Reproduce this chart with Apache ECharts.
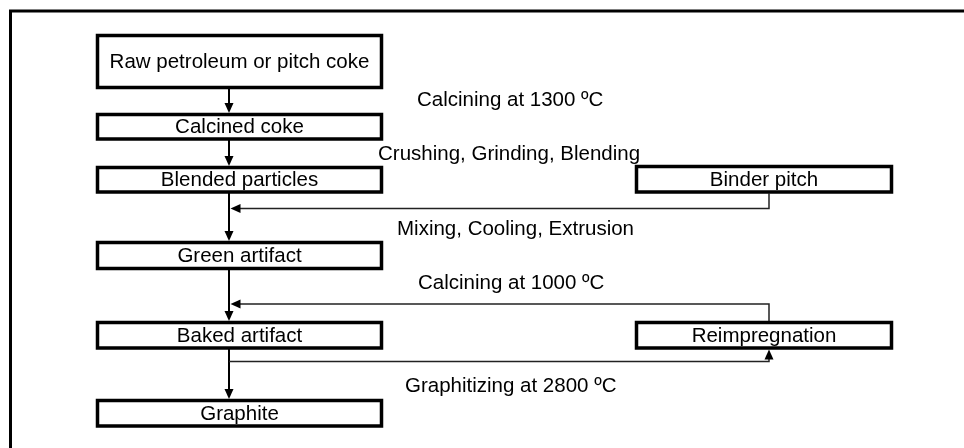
<!DOCTYPE html>
<html>
<head>
<meta charset="utf-8">
<script src="https://cdn.jsdelivr.net/npm/echarts@6/dist/echarts.min.js"></script>
<style>
html,body{margin:0;padding:0;background:#fff;}
#chart{width:964px;height:448px;}
</style>
</head>
<body>
<div id="chart"></div>
<script>
// Node labels and layout (in diagram units, x: 0-964, y: 0-448 top-down)
var nodeNames = ['Raw petroleum or pitch coke', 'Calcined coke', 'Blended particles', 'Binder pitch',
                 'Green artifact', 'Baked artifact', 'Reimpregnation', 'Graphite'];
var nodeX0 = [97.5, 97.5, 97.5, 636.5, 97.5, 97.5, 636.5, 97.5];
var nodeX1 = [381.5, 381.5, 381.5, 891.5, 381.5, 381.5, 891.5, 381.5];
var nodeY0 = [35.5, 114.5, 167.5, 166.5, 242.5, 322.5, 322.5, 400.5];
var nodeY1 = [87.5, 139, 192, 192, 268.5, 348, 348, 426];

// Process step labels: text, left x, centre y
var stepNames = ['Calcining at 1300 ºC', 'Crushing, Grinding, Blending', 'Mixing, Cooling, Extrusion',
                 'Calcining at 1000 ºC', 'Graphitizing at 2800 ºC'];
var stepX = [417, 378, 397, 418, 405];
var stepY = [100, 154, 229, 283, 386];

// Flow edges (polyline points, arrow at the last point); main = thick vertical flow
var edges = [
  [[229, 89], [229, 113]],
  [[229, 140], [229, 166]],
  [[229, 193], [229, 241]],
  [[769, 193], [769, 208.5], [230.5, 208.5]],
  [[229, 270], [229, 321]],
  [[769, 321], [769, 304], [230.5, 304]],
  [[229, 349], [229, 399]],
  [[229, 361.5], [769, 361.5], [769, 349.5]]
];
var edgeMain = [true, true, true, false, true, false, true, false];

// Outer frame (top and left edges visible)
var frame = [[10.5, 448], [10.5, 11], [964, 11]];

var chart = echarts.init(document.getElementById('chart'), null, {renderer: 'canvas'});
var FONT = 'Liberation Sans, Arial, sans-serif';
var FS = '20.5px ';

var option = {
  animation: false,
  backgroundColor: '#ffffff',
  grid: {left: 0, right: 0, top: 0, bottom: 0},
  xAxis: {type: 'value', min: 0, max: 964, show: false},
  yAxis: {type: 'value', min: 0, max: 448, inverse: true, show: false},
  series: [
    {
      type: 'custom',
      coordinateSystem: 'cartesian2d',
      data: [0],
      renderItem: function (params, api) {
        var pts = frame.map(function (p) { return api.coord(p); });
        return {type: 'polyline', shape: {points: pts}, style: {stroke: '#000', lineWidth: 3, fill: null}};
      }
    },
    {
      type: 'custom',
      coordinateSystem: 'cartesian2d',
      data: nodeNames.map(function (n, i) { return [nodeX0[i], nodeY0[i], nodeX1[i], nodeY1[i]]; }),
      renderItem: function (params, api) {
        var i = params.dataIndex;
        var p0 = api.coord([api.value(0), api.value(1)]);
        var p1 = api.coord([api.value(2), api.value(3)]);
        return {
          type: 'group',
          children: [
            {type: 'rect', shape: {x: p0[0], y: p0[1], width: p1[0] - p0[0], height: p1[1] - p0[1]},
             style: {fill: '#fff', stroke: '#000', lineWidth: 3.5}},
            {type: 'text', style: {text: nodeNames[i], x: (p0[0] + p1[0]) / 2, y: (p0[1] + p1[1]) / 2 + 1,
             textAlign: 'center', textVerticalAlign: 'middle', align: 'center', verticalAlign: 'middle',
             font: FS + FONT, fill: '#000'}}
          ]
        };
      }
    },
    {
      type: 'custom',
      coordinateSystem: 'cartesian2d',
      data: edges.map(function (e, i) { return e[0]; }),
      renderItem: function (params, api) {
        var i = params.dataIndex;
        var pts = edges[i].map(function (p) { return api.coord(p); });
        var n = pts.length;
        var tip = pts[n - 1], prev = pts[n - 2];
        var dx = tip[0] - prev[0], dy = tip[1] - prev[1];
        var len = Math.sqrt(dx * dx + dy * dy);
        var ux = dx / len, uy = dy / len;
        var L = 10, W = 4.5;
        var bx = tip[0] - ux * L, by = tip[1] - uy * L;
        var linePts = pts.slice(0, n - 1).concat([[bx + ux * 1, by + uy * 1]]);
        var main = edgeMain[i];
        return {
          type: 'group',
          children: [
            {type: 'polyline', shape: {points: linePts},
             style: {stroke: main ? '#000' : '#222', lineWidth: main ? 2 : 1.5, fill: null}},
            {type: 'polygon', shape: {points: [tip, [bx - uy * W, by + ux * W], [bx + uy * W, by - ux * W]]},
             style: {fill: '#000', stroke: null}}
          ]
        };
      }
    },
    {
      type: 'custom',
      coordinateSystem: 'cartesian2d',
      data: stepNames.map(function (s, i) { return [stepX[i], stepY[i]]; }),
      renderItem: function (params, api) {
        var i = params.dataIndex;
        var p = api.coord([api.value(0), api.value(1)]);
        return {type: 'text', style: {text: stepNames[i], x: p[0], y: p[1],
          textAlign: 'left', textVerticalAlign: 'middle', align: 'left', verticalAlign: 'middle',
          font: FS + FONT, fill: '#000'}};
      }
    }
  ]
};
chart.setOption(option);
</script>
</body>
</html>
